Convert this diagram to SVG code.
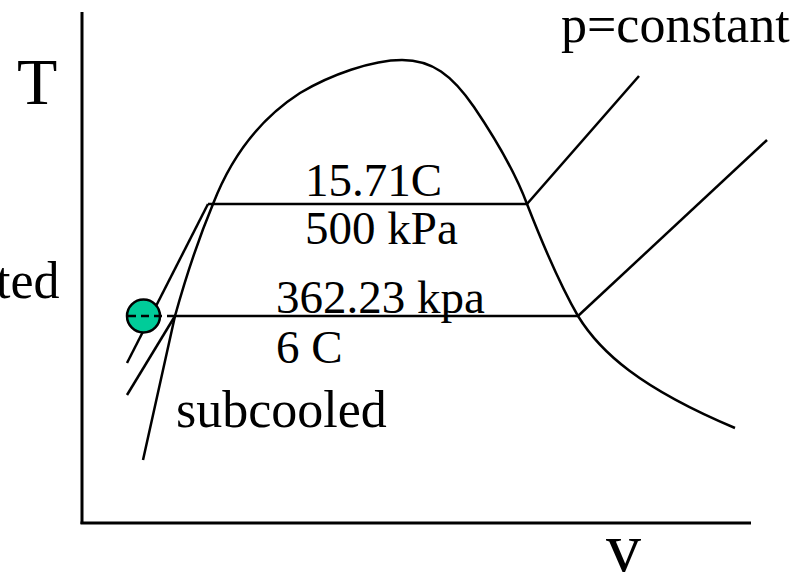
<svg xmlns="http://www.w3.org/2000/svg" width="804" height="573" viewBox="0 0 804 573">
<style>
.ln{fill:none;stroke:#000;stroke-width:2.5;stroke-linecap:butt;stroke-linejoin:round}
.ax{fill:none;stroke:#000;stroke-width:3}
.t{font-family:"Liberation Serif","Times New Roman",serif;fill:#000}
</style>
<rect width="804" height="573" fill="#fff"/>
<g id="axes">
<line class="ax" x1="82" y1="12" x2="82" y2="524"/>
<line class="ax" x1="80.5" y1="523" x2="751" y2="523"/>
</g>
<g id="connectors">
<path id="dome" class="ln" d="M143,460 L175,316 C185,280 198,240 213,204 C228,165 255,122 300,93 C330,75 372,60 402,60 C432,60 452,75 474,107 C495,138 515,172 527,204 C543,245 560,285 578,316 C600,352 640,388 735,428"/>
<line class="ln" x1="208" y1="204" x2="527" y2="204"/>
<line class="ln" x1="172" y1="316" x2="578" y2="316"/>
<line class="ln" x1="208" y1="204" x2="127" y2="363"/>
<line class="ln" x1="175" y1="316" x2="127" y2="395"/>
<line class="ln" x1="527" y1="204" x2="639" y2="76"/>
<line class="ln" x1="578" y1="316" x2="767" y2="140"/>
</g>
<g id="state-point">
<circle cx="143.5" cy="316" r="16.5" fill="#00cc99" stroke="#000" stroke-width="2.5"/>
<line x1="128" y1="316" x2="172" y2="316" stroke="#000" stroke-width="2.5" stroke-dasharray="8,5"/>
</g>
<g id="labels">
<text class="t" x="17" y="104" font-size="66">T</text>
<text class="t" x="561" y="42" font-size="52">p=constant</text>
<text class="t" x="305" y="196" font-size="47">15.71C</text>
<text class="t" x="305" y="244" font-size="47">500 kPa</text>
<text class="t" x="276" y="313" font-size="47">362.23 kpa</text>
<text class="t" x="276" y="363" font-size="47">6 C</text>
<text class="t" x="176" y="427" font-size="52">subcooled</text>
<text class="t" x="-4" y="298" font-size="52">ted</text>
<text class="t" x="606" y="571" font-size="70">v</text>
</g>
</svg>
